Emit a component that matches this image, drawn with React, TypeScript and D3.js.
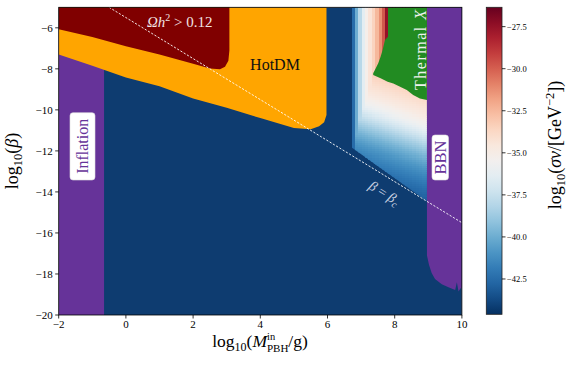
import * as d3 from 'd3';

type Pt = [number, number];

const X_TICKS = [-2, 0, 2, 4, 6, 8, 10];
const Y_TICKS = [-20, -18, -16, -14, -12, -10, -8, -6];
const CBAR_TICKS = [-27.5, -30, -32.5, -35, -37.5, -40, -42.5];
const CBAR_RANGE: Pt = [-44.6, -26.35];

// Ωh^2 > 0.12 : lower edge left -> right, then up the right side
const OVERCLOSE_EDGE: Pt[] = [
  [-2, -6.07], [-1, -6.45], [0, -6.9], [1, -7.3], [2, -7.75], [2.5, -7.98],
  [2.8, -8.02], [2.95, -7.9], [3.05, -7.6], [3.08, -7.1], [3.08, -5],
];
// HotDM : lower edge left -> right, then up the right side
const HOTDM_EDGE: Pt[] = [
  [-2, -7.3], [-1, -7.85], [0, -8.42], [1, -8.85], [2, -9.45], [3, -9.9], [4, -10.4],
  [5, -10.88], [5.5, -10.95], [5.75, -10.8], [5.9, -10.6], [5.97, -10.25], [5.97, -5],
];
const INFLATION_X: Pt = [-2, -0.65];
const THERMAL_EDGE: Pt[] = [
  [7.8, -5], [7.8, -6.43], [7.71, -6.6], [7.64, -7.08], [7.58, -7.41], [7.51, -7.73],
  [7.41, -8.06], [7.36, -8.22], [7.36, -8.3], [7.58, -8.46], [7.79, -8.63], [7.96, -8.71],
  [8.16, -8.87], [8.36, -9.03], [8.55, -9.28], [8.75, -9.44], [8.96, -9.52], [8.96, -5],
];
const BBN_EDGE: Pt[] = [
  [8.96, -5], [8.96, -17.1], [9.02, -17.55], [9.1, -17.95], [9.2, -18.25], [9.4, -18.5],
  [9.6, -18.65], [9.8, -18.78], [9.85, -18.4], [9.9, -18.85], [9.96, -18.7], [10, -18.7], [10, -5],
];
const SIGMA_REGION: Pt[] = [[6.72, -5], [6.72, -11.83], [8.96, -14.46], [8.96, -5]];
const BETA_C_LINE: Pt[] = [[-0.5, -5], [10, -15.5]];

// log10(σv) map: value of each mass column near the top, and the fall-off with depth
const SIGMA_COLS = [6.72, 6.82, 6.92, 7.02, 7.12, 7.22, 7.32, 7.42, 7.52, 7.62, 7.72, 7.82,
  7.92, 8.02, 8.12, 8.22, 8.32, 8.42, 8.52, 8.62, 8.72, 8.82, 8.92];
const SIGMA_COL_VALS = [-42.5, -40.0, -38.0, -36.4, -35.2, -34.3, -33.5, -32.5, -31.3, -29.8, -27.5, -26.5,
  -26.5, -26.5, -26.5, -26.5, -26.5, -26.5, -26.5, -26.5, -26.5, -26.5, -26.5];
const SIGMA_DEPTH = [-5, -6, -6.5, -7, -7.5, -8, -8.5, -9, -9.5, -10, -10.5, -11, -11.5, -12, -12.5, -13, -13.5, -14, -15];
const SIGMA_DEPTH_VALS = [-26.0, -26.5, -28.0, -30.5, -32.5, -33.6, -34.2, -34.8, -35.8, -37.2, -38.6,
  -39.8, -40.8, -41.6, -42.3, -42.9, -43.5, -44.0, -44.5];
const SIGMA_TILT = 0.6;

const W = 581, H = 366;
const PL = 58.7, PR = 461.9, PT = 7.3, PB = 315;
const CB = { x0: 486.3, x1: 502, y0: 7.3, y1: 314.3 };
const FONT = '"Liberation Serif", "DejaVu Serif", serif';
const BG_BLUE = '#0e3c70';

const x = d3.scaleLinear().domain([-2, 10]).range([PL, PR]);
const y = d3.scaleLinear().domain([-20, -5]).range([PB, PT]);
const cy = d3.scaleLinear().domain(CBAR_RANGE).range([CB.y1, CB.y0]);
const cmap = d3.scaleSequential((t: number) => d3.interpolateRdBu(1 - t)).domain(CBAR_RANGE).clamp(true);
const depth = d3.scaleLinear().domain(SIGMA_DEPTH).range(SIGMA_DEPTH_VALS).clamp(true);

const line = d3.line<Pt>().x(d => x(d[0])).y(d => y(d[1]));
const poly = (pts: Pt[]) => line(pts) + 'Z';
const minus = (s: string) => s.replace('-', '−');

export default function App() {
  const rows = d3.range(-15, -5, 0.1);
  const cw = x(0.1) - x(0);
  const rh = y(0) - y(0.1);
  const cells = SIGMA_COLS.flatMap((c, i) => rows.map(r => {
    const u = r + 0.05 + SIGMA_TILT * (c + 0.05 - SIGMA_COLS[0]);
    const v = Math.min(SIGMA_COL_VALS[i], depth(u));
    return { c, r, v };
  }));

  const gradStops = d3.range(0, 1.0001, 0.05);

  return (
    <svg width={W} height={H} style={{ position: 'absolute', left: 0, top: 0, background: '#fff' }}
      fontFamily={FONT}>
      <defs>
        <clipPath id="plot"><rect x={PL} y={PT} width={PR - PL} height={PB - PT} /></clipPath>
        <clipPath id="sigma"><path d={poly(SIGMA_REGION)} /></clipPath>
        <linearGradient id="cbar" x1="0" y1="1" x2="0" y2="0">
          {gradStops.map(t => (
            <stop key={t} offset={t} stopColor={cmap(CBAR_RANGE[0] + t * (CBAR_RANGE[1] - CBAR_RANGE[0]))} />
          ))}
        </linearGradient>
      </defs>

      <g clipPath="url(#plot)">
        <rect x={PL} y={PT} width={PR - PL} height={PB - PT} fill={BG_BLUE} />
        <g clipPath="url(#sigma)" shapeRendering="crispEdges">
          {cells.map((d, i) => (
            <rect key={i} x={x(d.c)} y={y(d.r + 0.1)} width={cw + 0.5} height={rh + 0.5} fill={cmap(d.v)} />
          ))}
        </g>
        <rect x={x(INFLATION_X[0])} y={PT} width={x(INFLATION_X[1]) - x(INFLATION_X[0])} height={PB - PT} fill="#663399" />
        <path d={poly([[-2, -5], ...HOTDM_EDGE])} fill="#ffa500" />
        <path d={poly([[-2, -5], ...OVERCLOSE_EDGE])} fill="#800000" />
        <path d={poly(THERMAL_EDGE)} fill="#228b22" />
        <path d={poly(BBN_EDGE)} fill="#663399" />
        <path d={line(BETA_C_LINE) || ''} stroke="#fff" strokeWidth={0.9} strokeDasharray="2.2,1.6" fill="none" />

        {/* labels inside the plot */}
        <text x={147} y={26.5} fontSize={15} fill="#f2e4e4">
          <tspan fontStyle="italic">Ωh</tspan>
          <tspan fontSize={10} dy={-6}>2</tspan>
          <tspan dy={6}> &gt; 0.12</tspan>
        </text>
        <text x={275} y={69.5} fontSize={16} textAnchor="middle" fill="#111">HotDM</text>
        <text transform="translate(426,50) rotate(-90)" fontSize={16} textAnchor="middle" fill="#eef2ee"
          textLength={80}>
          Thermal <tspan fontStyle="italic">X</tspan>
        </text>
        <rect x={70} y={112.7} width={25} height={67.3} rx={3} fill="#fff" stroke="#ddd" strokeWidth={0.6} />
        <text transform="translate(87.5,146.3) rotate(-90)" fontSize={16} textAnchor="middle" fill="#663399">Inflation</text>
        <rect x={432} y={135} width={16.5} height={45} rx={3} fill="#fff" stroke="#ddd" strokeWidth={0.6} />
        <text transform="translate(445.6,157.5) rotate(-90)" fontSize={16.5} textAnchor="middle" fill="#663399">BBN</text>
        <text transform="translate(382,197) rotate(32)" fontSize={14} textAnchor="middle" fill="#c9d2e2">
          <tspan fontStyle="italic">β</tspan> = <tspan fontStyle="italic">β</tspan>
          <tspan fontSize={10} dy={3} fontStyle="italic">c</tspan>
        </text>
      </g>

      {/* frame */}
      <rect x={PL} y={PT} width={PR - PL} height={PB - PT} fill="none" stroke="#000" strokeWidth={0.8} />

      {/* x axis */}
      {X_TICKS.map(t => (
        <g key={t}>
          <line x1={x(t)} x2={x(t)} y1={PB} y2={PB + 3.5} stroke="#000" strokeWidth={0.8} />
          <text x={x(t)} y={PB + 13} fontSize={11} textAnchor="middle">{minus(String(t))}</text>
        </g>
      ))}
      {/* y axis */}
      {Y_TICKS.map(t => (
        <g key={t}>
          <line x1={PL - 3.5} x2={PL} y1={y(t)} y2={y(t)} stroke="#000" strokeWidth={0.8} />
          <text x={PL - 6} y={y(t)} dy="0.35em" fontSize={11} textAnchor="end">{minus(String(t))}</text>
        </g>
      ))}

      <text x={260} y={347} fontSize={17.5} textAnchor="middle">
        log<tspan fontSize={12} dy={4}>10</tspan>
        <tspan dy={-4}>(</tspan>
        <tspan fontStyle="italic">M</tspan>
        <tspan fontSize={10.5} dy={-7}>in</tspan>
        <tspan fontSize={11} dx={-8.2} dy={12}>PBH</tspan>
        <tspan dy={-5}>/g)</tspan>
      </text>
      <text transform="translate(18,161) rotate(-90)" fontSize={18} textAnchor="middle">
        log<tspan fontSize={12.5} dy={4}>10</tspan>
        <tspan dy={-4}>(</tspan>
        <tspan fontStyle="italic">β</tspan>)
      </text>

      {/* colorbar */}
      <rect x={CB.x0} y={CB.y0} width={CB.x1 - CB.x0} height={CB.y1 - CB.y0} fill="url(#cbar)" stroke="#222" strokeWidth={0.8} />
      {CBAR_TICKS.map(t => (
        <g key={t}>
          <line x1={CB.x1} x2={CB.x1 + 3.5} y1={cy(t)} y2={cy(t)} stroke="#000" strokeWidth={0.8} />
          <text x={CB.x1 + 5} y={cy(t)} dy="0.35em" fontSize={8.5}>{minus(d3.format('.1f')(t))}</text>
        </g>
      ))}
      <text transform="translate(561,145) rotate(-90)" fontSize={18} textAnchor="middle">
        log<tspan fontSize={12.5} dy={4}>10</tspan>
        <tspan dy={-4}>(</tspan>
        <tspan fontStyle="italic">σv</tspan>/[GeV
        <tspan fontSize={12.5} dy={-7}>−2</tspan>
        <tspan dy={7}>])</tspan>
      </text>
    </svg>
  );
}
